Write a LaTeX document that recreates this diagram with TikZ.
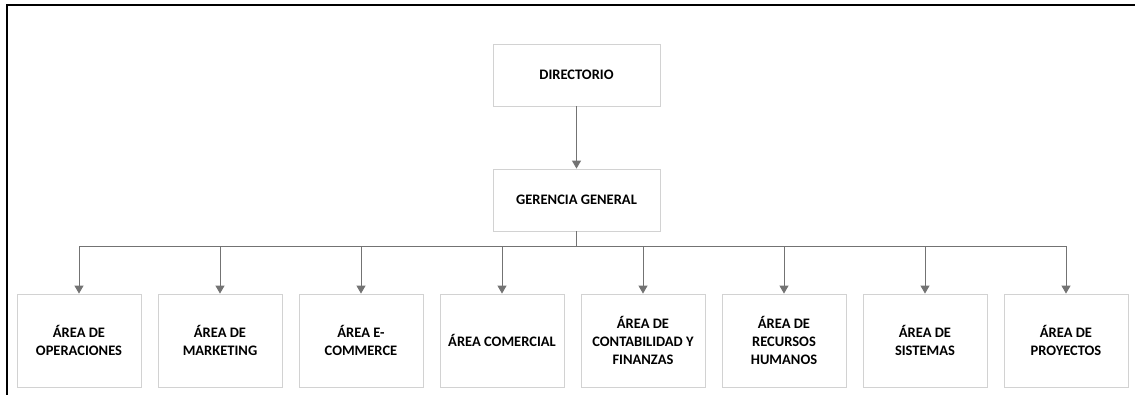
\documentclass[tikz,border=0pt]{standalone}
\usepackage{fontspec}
\setmainfont{Carlito}
\usetikzlibrary{arrows.meta,shadows}

\tikzset{
  caja/.style={draw=gray!35, fill=white, line width=0.8pt, align=center,
    font=\bfseries\fontsize{14.5}{18}\selectfont,
    drop shadow={shadow xshift=1.2pt, shadow yshift=-1.2pt, fill=gray!25, opacity=0.6}},
  area/.style={caja, minimum width=124pt, minimum height=93pt, inner sep=0pt},
  jefe/.style={caja, minimum width=167pt, minimum height=62pt, inner sep=0pt},
  linea/.style={draw=gray!90!black, line width=1pt},
  flecha/.style={linea, -{Triangle[width=9pt,length=8pt]}}
}

\begin{document}
\begin{tikzpicture}[x=1pt,y=-1pt]
\useasboundingbox (0,0) rectangle (1135,395);

% marco
\draw[line width=2pt] (6.5,396) -- (6.5,5.5) -- (1136,5.5);

\node[jefe] (dir) at (576.5,75) {DIRECTORIO};
\node[jefe] (ger) at (576.5,200) {GERENCIA GENERAL};

\node[area] (a1) at (79,340.5) {ÁREA DE\\OPERACIONES};
\node[area] (a2) at (220,340.5) {ÁREA DE\\MARKETING};
\node[area] (a3) at (361,340.5) {ÁREA E-\\COMMERCE};
\node[area] (a4) at (502,340.5) {ÁREA COMERCIAL};
\node[area] (a5) at (643,340.5) {ÁREA DE\\CONTABILIDAD Y\\FINANZAS};
\node[area] (a6) at (784,340.5) {ÁREA DE\\RECURSOS\\HUMANOS};
\node[area] (a7) at (925,340.5) {ÁREA DE\\SISTEMAS};
\node[area] (a8) at (1066,340.5) {ÁREA DE\\PROYECTOS};

\coordinate (bus) at (576.5,247);

\draw[flecha] (dir) -- (ger);
\draw[linea] (ger) -- (bus);
\foreach \n in {a1,a2,a3,a4,a5,a6,a7,a8}
  \draw[flecha] (bus) -| (\n);

\end{tikzpicture}
\end{document}
